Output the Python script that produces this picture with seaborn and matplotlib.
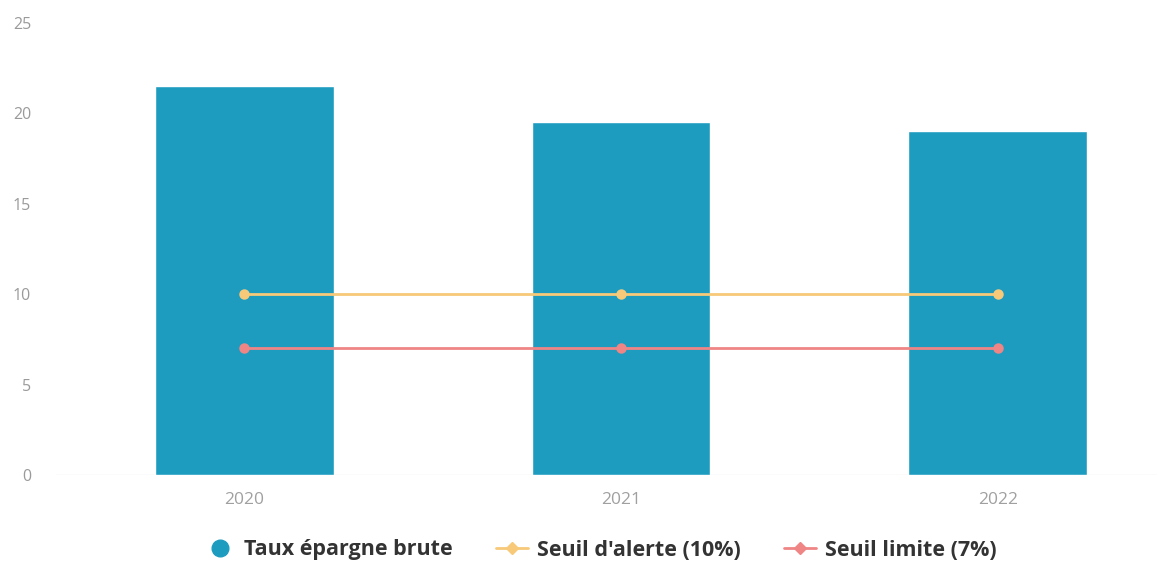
import matplotlib
matplotlib.use("Agg")
import matplotlib.pyplot as plt
from matplotlib.lines import Line2D
import seaborn as sns
import pandas as pd

years = ["2020", "2021", "2022"]
taux_epargne = [21.5, 19.5, 19.0]
seuil_alerte = [10, 10, 10]
seuil_limite = [7, 7, 7]
y_ticks = [0, 5, 10, 15, 20, 25]

sns.set_theme(style="white")
plt.rcParams['font.family'] = ['Open Sans', 'DejaVu Sans']

bar_color = "#1e9cc0"
gold = "#f7c978"
red = "#f08585"

fig = plt.figure(figsize=(11.57, 5.62), dpi=100)
ax = fig.add_axes([56/1157, 1-475/562, 1-56/1157, (475-23)/562])

df = pd.DataFrame({"year": years, "taux": taux_epargne,
                   "alerte": seuil_alerte, "limite": seuil_limite})

sns.barplot(data=df, x="year", y="taux", color=bar_color, width=0.475,
            saturation=1, ax=ax, zorder=2)
sns.pointplot(data=df, x="year", y="alerte", color=gold, markers="o",
              linewidth=2, markersize=6, ax=ax, zorder=3)
sns.pointplot(data=df, x="year", y="limite", color=red, markers="o",
              linewidth=2, markersize=6, ax=ax, zorder=3)

ax.set_ylim(0, 25)
ax.set_xlim(-0.5, 2.5 - (1186 - 1157) / 376.5)
ax.set_yticks(y_ticks)
ax.set_yticklabels([str(v) for v in y_ticks])
ax.set_xlabel("")
ax.set_ylabel("")
for s in ax.spines.values():
    s.set_visible(False)
ax.axhline(0, color="#eeeeee", lw=1, zorder=1)
ax.tick_params(axis="y", length=0, pad=18, labelsize=11.5, labelcolor="#9a9a9a")
ax.tick_params(axis="x", length=0, pad=12, labelsize=12.5, labelcolor="#a0a0a0")

handles = [
    Line2D([], [], marker="o", linestyle="none", markersize=12,
           markerfacecolor=bar_color, markeredgecolor=bar_color),
    Line2D([], [], marker="D", color=gold, lw=2, markersize=6),
    Line2D([], [], marker="D", color=red, lw=2, markersize=6),
]
labels = ["Taux épargne brute", "Seuil d'alerte (10%)", "Seuil limite (7%)"]
leg = fig.legend(handles, labels, loc="center", bbox_to_anchor=(600/1157, 1-550/562),
                 ncol=3, frameon=False, handlelength=1.5, columnspacing=2.0,
                 handletextpad=0.4, prop={"weight": "bold", "size": 15.5})
for t in leg.get_texts():
    t.set_color("#333333")

fig.savefig("out.png", dpi=100)
